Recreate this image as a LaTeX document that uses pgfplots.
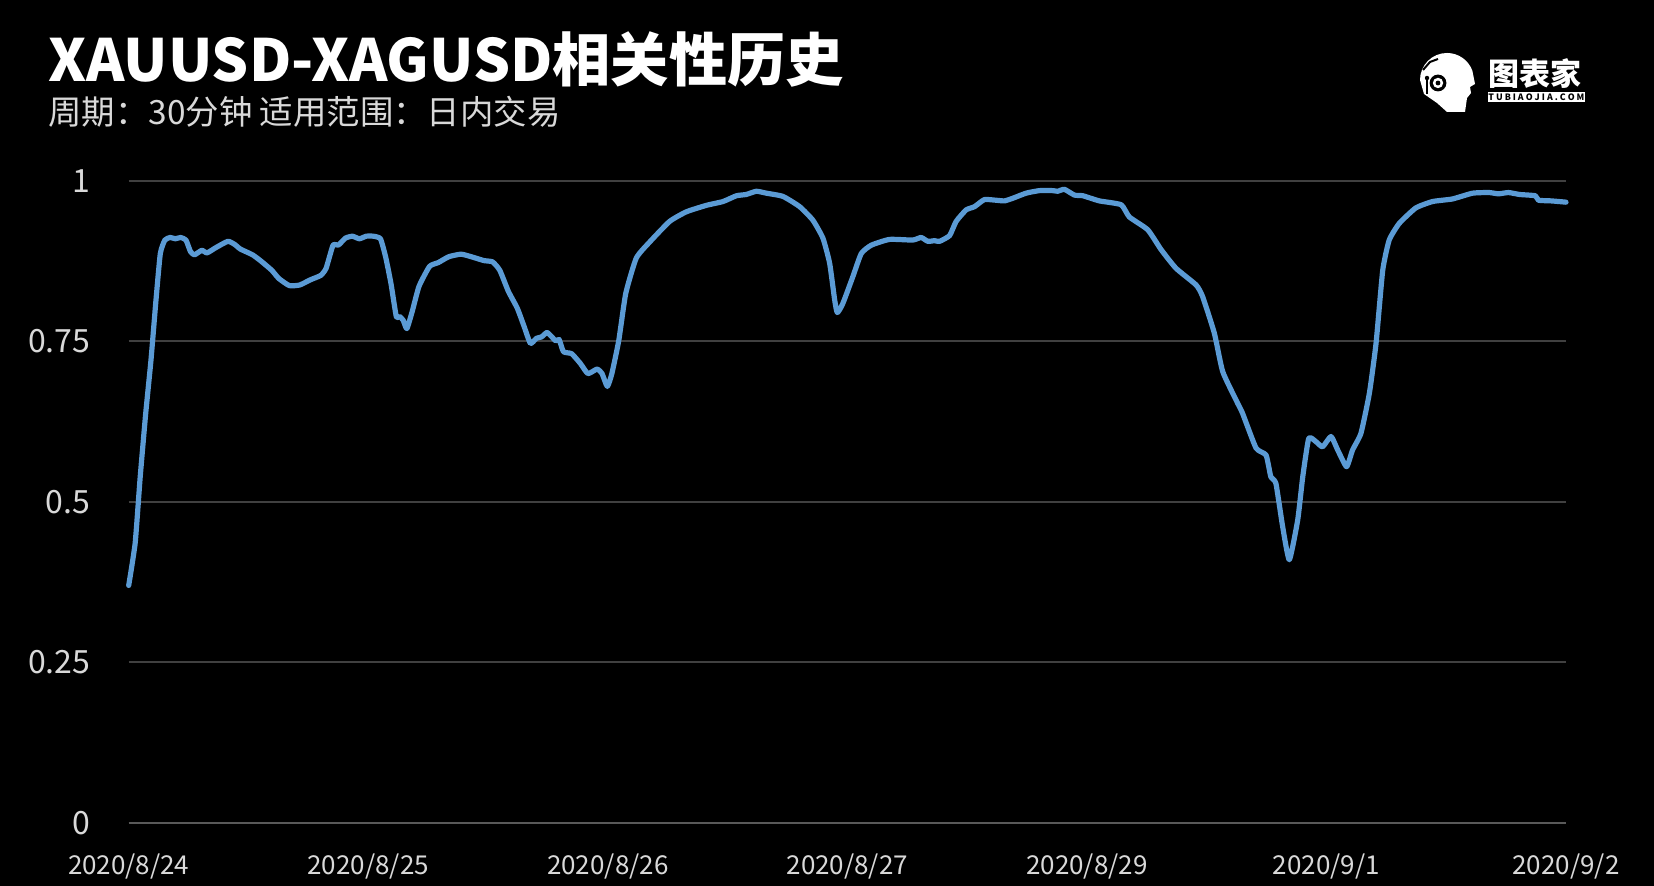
\documentclass[border=0pt]{standalone}
\usepackage{pgfplots}
\pgfplotsset{compat=1.18}
\usepackage{fontspec}
\setmainfont{Noto Sans CJK SC}
\definecolor{linecol}{RGB}{91,155,213}
\definecolor{gridcol}{RGB}{64,64,64}
\definecolor{basecol}{RGB}{89,89,89}
\definecolor{ticktxt}{RGB}{217,217,217}
\begin{document}
\begin{tikzpicture}[x=1pt,y=1pt]
\useasboundingbox (0,0) rectangle (827,443);
\fill[black] (0,0) rectangle (827,443);
% titles
\node[anchor=base west,inner sep=0pt,text=white,font=\fontsize{29.1}{33}\selectfont\bfseries] (ttl) at (24,402) {XAUUSD-XAGUSD相关性历史};
\node[anchor=base west,inner sep=0pt,text=ticktxt,font=\fontsize{16.7}{19}\selectfont] at ([yshift=-21.5pt]ttl.base west) {周期：30分钟 适用范围：日内交易};
% logo
\fill[white] (710,403) arc[start angle=180,end angle=20,radius=13.5] -- (737.5,401) -- (735,399.5) -- (735.5,396.5) -- (733.5,394) -- (732.5,387) -- (723.5,387) -- (718.5,391.5) -- (712,396) -- cycle;
\fill[black] (719,401.5) circle (4.2);
\fill[white] (719,401.5) circle (2.6);
\fill[black] (719,401.5) circle (1.2);
\draw[black,line width=1] (711.5,408) -- (715,412) -- (719,413.5);
\draw[black,line width=0.8] (713.5,404) -- (713.5,396);
\fill[black] (713.5,404) circle (1.1);
\node[anchor=base west,inner sep=0pt,text=white,font=\fontsize{15.5}{16}\selectfont\bfseries] at (744,400) {图表家};
\fill[white] (744,392) rectangle (792.5,397);
\node[inner sep=0pt,text=black,font=\fontsize{4.4}{5}\selectfont\bfseries] at (768.2,394.5) {T U B I A O J I A . C O M};
\begin{axis}[
    at={(64.35pt,31.5pt)}, anchor=south west,
    scale only axis,
    width=718.65pt, height=321pt,
    xmin=0, xmax=6, ymin=0, ymax=1,
    axis line style={draw=none},
    tick style={draw=none},
    ytick={0,0.25,0.5,0.75,1},
    yticklabels={0,0.25,0.5,0.75,1},
    xtick={0,1,2,3,4,5,6},
    xticklabels={2020/8/24,2020/8/25,2020/8/26,2020/8/27,2020/8/29,2020/9/1,2020/9/2},
    yticklabel style={anchor=east,inner sep=0pt,xshift=-19pt,text=ticktxt,font=\fontsize{16}{18}\selectfont},
    xticklabel style={anchor=base,inner sep=0pt,yshift=-26pt,text=ticktxt,font=\fontsize{13}{15}\selectfont},
    ymajorgrids=true,
    grid style={gridcol,line width=1pt},
    clip=false,
]
\addplot[basecol,line width=1.4pt,forget plot] coordinates {(0,0) (6,0)};
\addplot[linecol,line width=2.6pt,line join=round,line cap=round,smooth,tension=0.3] coordinates {
(0.000,.370) (0.027,.436) (0.048,.539) (0.071,.638) (0.093,.721) (0.114,.815)
(0.132,.887) (0.151,.908) (0.173,.912) (0.195,.910) (0.217,.912) (0.239,.908)
(0.258,.890) (0.275,.885) (0.305,.892) (0.327,.888) (0.363,.896) (0.414,.906)
(0.443,.901) (0.466,.894) (0.517,.885) (0.553,.875) (0.597,.861) (0.627,.848)
(0.671,.837) (0.714,.838) (0.758,.846) (0.802,.853) (0.824,.864) (0.853,.900)
(0.875,.900) (0.905,.911) (0.934,.914) (0.963,.910) (0.992,.914) (1.021,.914)
(1.051,.910) (1.073,.881) (1.095,.840) (1.117,.789) (1.131,.789) (1.146,.783)
(1.161,.770) (1.183,.796) (1.212,.836) (1.256,.867) (1.293,.873) (1.336,.882)
(1.388,.886) (1.439,.881) (1.483,.876) (1.519,.874) (1.549,.861) (1.585,.828)
(1.622,.802) (1.651,.773) (1.677,.747) (1.702,.755) (1.723,.757) (1.746,.764)
(1.767,.757) (1.782,.751) (1.797,.753) (1.815,.734) (1.849,.731) (1.885,.716)
(1.917,.700) (1.955,.707) (1.976,.700) (1.998,.680) (2.017,.700) (2.046,.752)
(2.075,.825) (2.119,.880) (2.175,.905) (2.258,.937) (2.328,.952) (2.411,.962)
(2.481,.968) (2.537,.977) (2.578,.979) (2.620,.984) (2.662,.981) (2.731,.976)
(2.801,.960) (2.856,.939) (2.898,.911) (2.926,.872) (2.947,.815) (2.958,.795)
(2.981,.809) (3.023,.851) (3.058,.887) (3.100,.900) (3.176,.909) (3.273,.908)
(3.308,.912) (3.336,.906) (3.364,.907) (3.385,.906) (3.427,.915) (3.454,.937)
(3.496,.955) (3.531,.960) (3.572,.971) (3.621,.970) (3.656,.969) (3.690,.973)
(3.746,.981) (3.802,.985) (3.857,.985) (3.878,.984) (3.906,.987) (3.948,.978)
(3.983,.977) (4.052,.969) (4.143,.963) (4.177,.944) (4.254,.924) (4.310,.893)
(4.372,.864) (4.456,.838) (4.483,.820) (4.532,.763) (4.567,.703) (4.629,.654)
(4.650,.638) (4.706,.584) (4.748,.573) (4.768,.539) (4.789,.529) (4.817,.462)
(4.845,.410) (4.880,.472) (4.901,.539) (4.926,.599) (4.956,.594) (4.984,.586)
(5.019,.602) (5.047,.581) (5.084,.555) (5.109,.581) (5.144,.607) (5.179,.669)
(5.207,.747) (5.235,.861) (5.262,.908) (5.304,.934) (5.373,.958) (5.443,.968)
(5.526,.972) (5.610,.981) (5.679,.982) (5.718,.980) (5.760,.982) (5.806,.979)
(5.872,.977) (5.885,.970) (5.938,.969) (6.000,.967)
};
\end{axis}
\end{tikzpicture}
\end{document}
